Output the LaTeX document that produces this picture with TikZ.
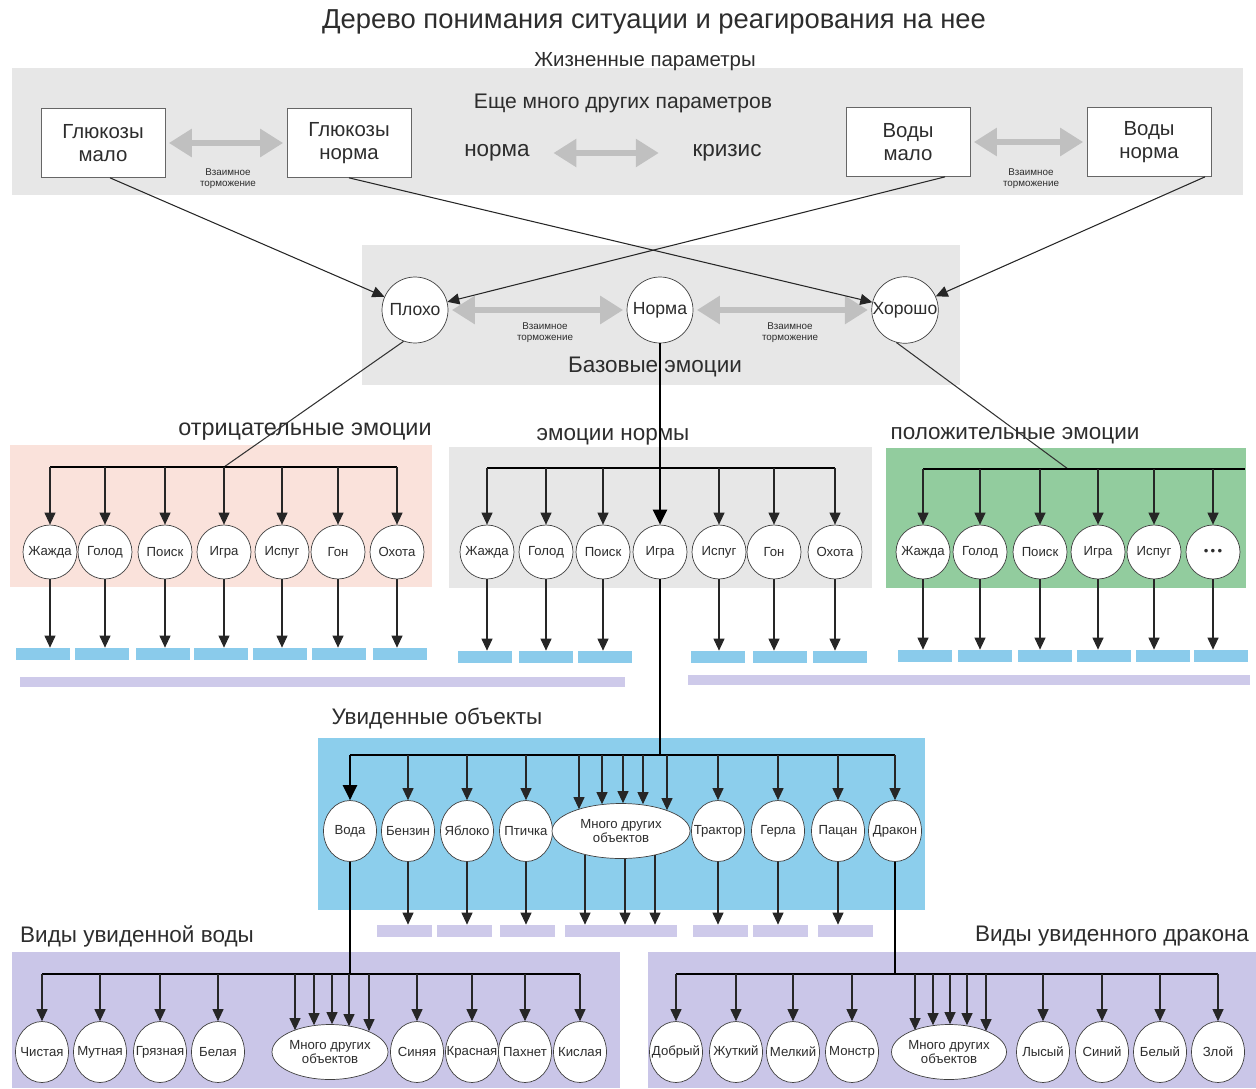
\documentclass[tikz,border=0pt]{standalone}
\usepackage{fontspec}
\setmainfont{Liberation Sans}
\usepackage{tikz}
\usetikzlibrary{arrows.meta,positioning,calc,shapes.geometric}
\definecolor{ink}{RGB}{45,45,45}
\definecolor{panelgray}{RGB}{231,231,231}
\definecolor{arrowgray}{RGB}{192,192,192}
\definecolor{negpink}{RGB}{250,226,219}
\definecolor{posgreen}{RGB}{146,204,158}
\definecolor{objblue}{RGB}{140,206,236}
\definecolor{barblue}{RGB}{138,203,235}
\definecolor{lavender2}{RGB}{202,198,232}
\definecolor{lavbar}{RGB}{206,202,234}
\tikzset{
  parambox/.style={draw=black!60, fill=white, minimum width=2.48cm, minimum height=1.38cm,
    align=center, text=ink, font=\fontsize{11.6}{13.5}\selectfont},
  basecircle/.style={circle, draw=black!75, fill=white, minimum size=1.32cm, inner sep=0pt,
    text=ink, font=\fontsize{10}{12}\selectfont},
  drivecircle/.style={circle, draw=black!75, fill=white, minimum size=1.08cm, inner sep=0pt,
    text=ink, font=\fontsize{7.5}{8.5}\selectfont},
  kindnode/.style={ellipse, draw=black!75, fill=white, minimum width=1.06cm, minimum height=1.22cm,
    inner xsep=-4pt, inner ysep=0pt, text=ink, font=\fontsize{7.5}{8.5}\selectfont},
  manynode/.style={ellipse, draw=black!75, fill=white, minimum height=1.1cm, inner sep=0pt,
    align=center, text=ink, font=\fontsize{7.5}{8.5}\selectfont},
  titlelabel/.style={text=ink, font=\fontsize{15.6}{18}\selectfont},
  grouplabel/.style={text=ink, font=\fontsize{12.8}{14}\selectfont},
  inhiblabel/.style={text=ink, align=center, font=\fontsize{5.6}{6.2}\selectfont},
  inhib/.style={{Triangle[length=4.6mm,width=5.4mm]}-{Triangle[length=4.6mm,width=5.4mm]},
    line width=3.4pt, draw=arrowgray, shorten <=2pt, shorten >=2pt},
  flow/.style={-{Triangle[length=2.4mm,width=2.2mm]}, line width=0.6pt, draw=black!85},
  mainflow/.style={-{Triangle[length=3mm,width=2.8mm]}, line width=1.4pt},
  thinline/.style={line width=0.6pt, draw=black!80},
  mainline/.style={line width=1.4pt},
  busline/.style={line width=1.1pt},
  bluebar/.style={fill=barblue, minimum width=1.08cm, minimum height=0.24cm, inner sep=0pt},
  lavbarnode/.style={fill=lavbar, minimum width=1.1cm, minimum height=0.24cm, inner sep=0pt}
}

\begin{document}
\begin{tikzpicture}[x=0.02cm, y=-0.02cm]
\useasboundingbox (0,0) rectangle (1256,1088);

% panels
\fill[panelgray] (12,68) rectangle (1243,195);
\fill[panelgray] (362,245) rectangle (960,385);
\fill[negpink] (10,445) rectangle (432,587);
\fill[panelgray] (449,447) rectangle (872,588);
\fill[posgreen] (886,448) rectangle (1246,588);
\fill[objblue] (318,738) rectangle (925,910);
\fill[lavender2] (12,952) rectangle (620,1088);
\fill[lavender2] (648,952) rectangle (1256,1088);
\fill[lavbar] (20,677) rectangle (625,687);
\fill[lavbar] (688,675) rectangle (1250,685);

% labels
\node[titlelabel] (title) at (654,22) {Дерево понимания ситуации и реагирования на нее};
\node[grouplabel, font=\fontsize{11.6}{13}\selectfont] (lifelbl) at (645,62) {Жизненные параметры};
\node[grouplabel, font=\fontsize{12}{13}\selectfont] (morelbl) at (623,103) {Еще много других параметров};
\node[grouplabel] (pnorm) at (497,153) {норма};
\node[grouplabel] (pcrisis) at (727,153) {кризис};
\node[grouplabel] (baselbl) at (655,367) {Базовые эмоции};
\node[grouplabel, font=\fontsize{13.3}{14}\selectfont] (neglbl) at (305,432) {отрицательные эмоции};
\node[grouplabel] (normlbl) at (613,437) {эмоции нормы};
\node[grouplabel] (poslbl) at (1015,436) {положительные эмоции};
\node[grouplabel] (objlbl) at (437,718) {Увиденные объекты};
\node[grouplabel] (waterlbl) at (137,936) {Виды увиденной воды};
\node[grouplabel] (dragonlbl) at (1112,936) {Виды увиденного дракона};
\node[inhiblabel] (inh1) at (228,179) {Взаимное\\торможение};
\node[inhiblabel] (inh2) at (1031,179) {Взаимное\\торможение};
\node[inhiblabel] (inh3) at (545,333) {Взаимное\\торможение};
\node[inhiblabel] (inh4) at (790,333) {Взаимное\\торможение};

% life parameters
\node[parambox] (gm) at (103,143) {Глюкозы\\мало};
\node[parambox] (gn) at (349,143) {Глюкозы\\норма};
\node[parambox] (wm) at (908,142) {Воды\\мало};
\node[parambox] (wn) at (1149,142) {Воды\\норма};

% base emotions
\node[basecircle] (bad) at (415,310) {Плохо};
\node[basecircle] (norma) at (660,310) {Норма};
\node[basecircle] (good) at (905,310) {Хорошо};

% negative
\node[drivecircle] (n1) at (50,552) {Жажда};
\node[drivecircle] (n2) at (105,552) {Голод};
\node[drivecircle] (n3) at (165,552) {Поиск};
\node[drivecircle] (n4) at (224,552) {Игра};
\node[drivecircle] (n5) at (282,552) {Испуг};
\node[drivecircle] (n6) at (338,552) {Гон};
\node[drivecircle] (n7) at (397,552) {Охота};
\node[bluebar] (nb1) at (43,654) {};
\node[bluebar] (nb2) at (102,654) {};
\node[bluebar] (nb3) at (163,654) {};
\node[bluebar] (nb4) at (221,654) {};
\node[bluebar] (nb5) at (280,654) {};
\node[bluebar] (nb6) at (339,654) {};
\node[bluebar] (nb7) at (400,654) {};

% norm
\node[drivecircle] (m1) at (487,552) {Жажда};
\node[drivecircle] (m2) at (546,552) {Голод};
\node[drivecircle] (m3) at (603,552) {Поиск};
\node[drivecircle] (m4) at (660,552) {Игра};
\node[drivecircle] (m5) at (719,552) {Испуг};
\node[drivecircle] (m6) at (774,552) {Гон};
\node[drivecircle] (m7) at (835,552) {Охота};
\node[bluebar] (mb1) at (485,657) {};
\node[bluebar] (mb2) at (546,657) {};
\node[bluebar] (mb3) at (605,657) {};
\node[bluebar] (mb5) at (718,657) {};
\node[bluebar] (mb6) at (780,657) {};
\node[bluebar] (mb7) at (840,657) {};

% positive
\node[drivecircle] (p1) at (923,552) {Жажда};
\node[drivecircle] (p2) at (980,552) {Голод};
\node[drivecircle] (p3) at (1040,552) {Поиск};
\node[drivecircle] (p4) at (1098,552) {Игра};
\node[drivecircle] (p5) at (1154,552) {Испуг};
\node[drivecircle] (p6) at (1213,552) {\textbullet\,\textbullet\,\textbullet};
\node[bluebar] (pb1) at (925,656) {};
\node[bluebar] (pb2) at (985,656) {};
\node[bluebar] (pb3) at (1045,656) {};
\node[bluebar] (pb4) at (1104,656) {};
\node[bluebar] (pb5) at (1163,656) {};
\node[bluebar] (pb6) at (1221,656) {};

% seen objects
\node[kindnode] (o1) at (350,831) {Вода};
\node[kindnode] (o2) at (408,831) {Бензин};
\node[kindnode] (o3) at (467,831) {Яблоко};
\node[kindnode] (o4) at (526,831) {Птичка};
\node[manynode, minimum width=2.76cm] (o5) at (621,831) {Много других\\объектов};
\node[kindnode] (o6) at (718,831) {Трактор};
\node[kindnode] (o7) at (778,831) {Герла};
\node[kindnode] (o8) at (838,831) {Пацан};
\node[kindnode] (o9) at (895,831) {Дракон};
\node[lavbarnode] (ob2) at (404,931) {};
\node[lavbarnode] (ob3) at (464,931) {};
\node[lavbarnode] (ob4) at (527,931) {};
\node[lavbarnode, minimum width=2.24cm] (ob5) at (621,931) {};
\node[lavbarnode] (ob6) at (720,931) {};
\node[lavbarnode] (ob7) at (780,931) {};
\node[lavbarnode] (ob8) at (845,931) {};

% kinds of water
\node[kindnode] (w1) at (42,1052) {Чистая};
\node[kindnode] (w2) at (100,1052) {Мутная};
\node[kindnode] (w3) at (160,1052) {Грязная};
\node[kindnode] (w4) at (218,1052) {Белая};
\node[manynode, minimum width=2.32cm] (w5) at (330,1052) {Много других\\объектов};
\node[kindnode] (w6) at (417,1052) {Синяя};
\node[kindnode] (w7) at (472,1052) {Красная};
\node[kindnode] (w8) at (525,1052) {Пахнет};
\node[kindnode] (w9) at (580,1052) {Кислая};

% kinds of dragon
\node[kindnode] (d1) at (676,1052) {Добрый};
\node[kindnode] (d2) at (736,1052) {Жуткий};
\node[kindnode] (d3) at (793,1052) {Мелкий};
\node[kindnode] (d4) at (852,1052) {Монстр};
\node[manynode, minimum width=2.24cm] (d5) at (949,1052) {Много других\\объектов};
\node[kindnode] (d6) at (1043,1052) {Лысый};
\node[kindnode] (d7) at (1102,1052) {Синий};
\node[kindnode] (d8) at (1160,1052) {Белый};
\node[kindnode] (d9) at (1218,1052) {Злой};

\coordinate (negbus) at (0,467);
\coordinate (normbus) at (0,468);
\coordinate (posbus) at (0,469);
\coordinate (posjoin) at (1068,469);
\coordinate (posend) at (1245,469);
\coordinate (objbus) at (0,755);
\coordinate (waterbus) at (0,974);
\coordinate (dragonbus) at (0,974);

% mutual inhibition
\draw[inhib] (gm) -- (gn);
\draw[inhib] (wm) -- (wn);
\draw[inhib, shorten <=0.35cm, shorten >=0.55cm] (pnorm) -- (pcrisis);
\draw[inhib] (bad) -- (norma);
\draw[inhib] (norma) -- (good);

% parameters to base emotions
\draw[flow] ([xshift=0.14cm]gm.south) -- (bad);
\draw[flow] (gn.south) -- (good);
\draw[flow] ([xshift=0.74cm]wm.south) -- (bad);
\draw[flow] ([xshift=1.12cm]wn.south) -- (good);

% negative branch
\draw[thinline] (bad.250) -- (n4 |- negbus);
\draw[busline] (n1 |- negbus) -- (n7 |- negbus);
\foreach \k in {1,...,7} {
  \draw[flow] (n\k |- negbus) -- (n\k);
  \draw[flow] (n\k) -- (n\k |- nb\k.north);
}

% norm branch
\draw[busline] (m1 |- normbus) -- (m7 |- normbus);
\foreach \k in {1,2,3,5,6,7} {
  \draw[flow] (m\k |- normbus) -- (m\k);
  \draw[flow] (m\k) -- (m\k |- mb\k.north);
}
\draw[mainflow] (norma) -- (m4);
\draw[mainline] (m4) -- (m4 |- objbus);

% positive branch
\draw[thinline] (good.255) -- (posjoin);
\draw[busline] (p1 |- posbus) -- (posend);
\foreach \k in {1,...,6} {
  \draw[flow] (p\k |- posbus) -- (p\k);
  \draw[flow] (p\k) -- (p\k |- pb\k.north);
}

% seen objects
\draw[busline] (o1 |- objbus) -- (o9 |- objbus);
\draw[mainflow] (o1 |- objbus) -- (o1);
\foreach \k in {2,3,4,6,7,8,9}
  \draw[flow] (o\k |- objbus) -- (o\k);
\foreach \dx/\dy in {-42/6,-19/1,2/0,22/1,46/7} {
  \coordinate (hit) at ([shift={(\dx,\dy)}]o5.north);
  \draw[flow] (hit |- objbus) -- (hit);
}
\foreach \k in {2,3,4,6,7,8}
  \draw[flow] (o\k) -- (o\k |- ob\k.north);
\foreach \dx/\dy in {-36/4,4/0,34/4} {
  \coordinate (leave) at ([shift={(\dx,-\dy)}]o5.south);
  \draw[flow] (leave) -- (leave |- ob5.north);
}

% water kinds
\draw[mainline] (o1) -- (o1 |- waterbus);
\draw[busline] (w1 |- waterbus) -- (w9 |- waterbus);
\foreach \k in {1,2,3,4,6,7,8,9}
  \draw[flow] (w\k |- waterbus) -- (w\k);
\foreach \dx/\dy in {-35/6,-16/1,2/0,19/2,39/7} {
  \coordinate (hit) at ([shift={(\dx,\dy)}]w5.north);
  \draw[flow] (hit |- waterbus) -- (hit);
}

% dragon kinds
\draw[mainline] (o9) -- (o9 |- dragonbus);
\draw[busline] (d1 |- dragonbus) -- (d9 |- dragonbus);
\foreach \k in {1,2,3,4,6,7,8,9}
  \draw[flow] (d\k |- dragonbus) -- (d\k);
\foreach \dx/\dy in {-34/6,-16/1,1/0,18/1,37/7} {
  \coordinate (hit) at ([shift={(\dx,\dy)}]d5.north);
  \draw[flow] (hit |- dragonbus) -- (hit);
}
\end{tikzpicture}
\end{document}
